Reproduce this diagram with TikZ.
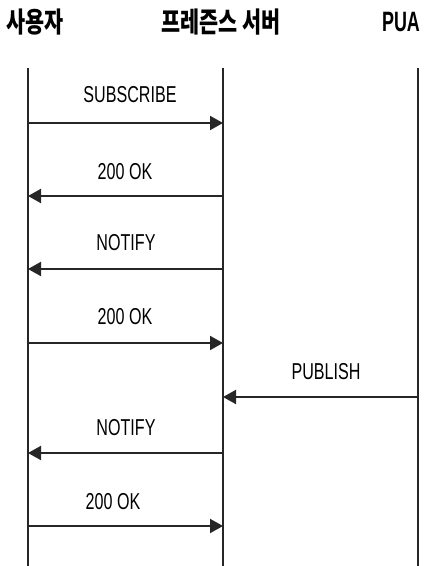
\documentclass[tikz,border=0pt]{standalone}
\usepackage{fontspec}
\usetikzlibrary{arrows.meta}
\newfontfamily\lab[FakeStretch=0.70]{Liberation Sans}
\newfontfamily\hdr[FakeStretch=0.74]{Noto Sans CJK KR}
\newfontfamily\hdrl[FakeStretch=0.64]{Liberation Sans}
\tikzset{
  lifeline/.style={line width=1.3pt, black!85},
  msg/.style={line width=2pt, black!85, -{Triangle[length=13pt,width=14pt]}},
  msglabel/.style={inner sep=0pt, font=\lab\fontsize{23}{26}\selectfont},
  header/.style={inner sep=0pt, font=\hdr\bfseries\fontsize{28}{30}\selectfont},
  headerl/.style={inner sep=0pt, font=\hdrl\bfseries\fontsize{28}{30}\selectfont}
}
\begin{document}
\begin{tikzpicture}[x=1pt,y=-1pt]
\useasboundingbox (0,0) rectangle (425,566);
% headers
\node[header] (h1) at (35,22) {사용자};
\node[header] (h2) at (221,22) {프레즌스 서버};
\node[headerl] (h3) at (401,22) {PUA};
% lifelines
\coordinate (t1) at (28,68);  \coordinate (b1) at (28,566);
\coordinate (t2) at (223,68); \coordinate (b2) at (223,566);
\coordinate (t3) at (418,68); \coordinate (b3) at (418,566);
\draw[lifeline] (t1) -- (b1);
\draw[lifeline] (t2) -- (b2);
\draw[lifeline] (t3) -- (b3);
% message endpoints
\coordinate (a1) at (28,123);  \coordinate (a2) at (223,123);
\coordinate (c1) at (28,196);  \coordinate (c2) at (223,196);
\coordinate (d1) at (28,269);  \coordinate (d2) at (223,269);
\coordinate (e1) at (28,343);  \coordinate (e2) at (223,343);
\coordinate (f2) at (223,397); \coordinate (f3) at (418,397);
\coordinate (g1) at (28,453);  \coordinate (g2) at (223,453);
\coordinate (k1) at (28,526);  \coordinate (k2) at (223,526);
% messages
\draw[msg] (a1) -- (a2);
\node[msglabel] (l1) at (130,95) {SUBSCRIBE};
\draw[msg] (c2) -- (c1);
\node[msglabel] (l2) at (125,172) {200 OK};
\draw[msg] (d2) -- (d1);
\node[msglabel] (l3) at (126,243) {NOTIFY};
\draw[msg] (e1) -- (e2);
\node[msglabel] (l4) at (125,317) {200 OK};
\draw[msg] (f3) -- (f2);
\node[msglabel] (l5) at (326,372) {PUBLISH};
\draw[msg] (g2) -- (g1);
\node[msglabel] (l6) at (126,428) {NOTIFY};
\draw[msg] (k1) -- (k2);
\node[msglabel] (l7) at (113,502) {200 OK};
\end{tikzpicture}
\end{document}
